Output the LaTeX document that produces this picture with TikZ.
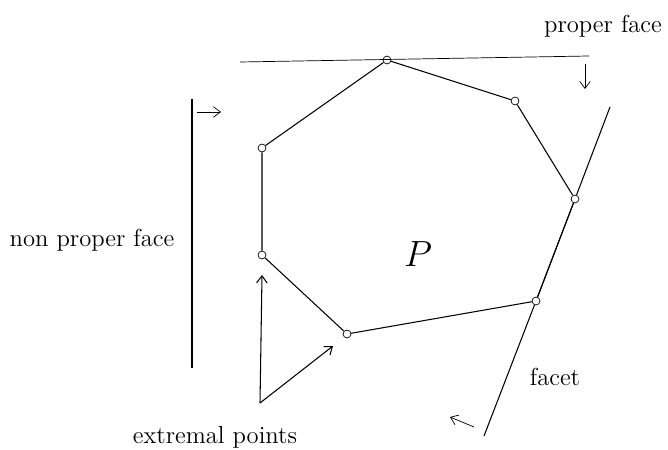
\documentclass[tikz,border=0pt]{standalone}
\usepackage{tikz}
\usetikzlibrary{calc, positioning, arrows.meta}

\begin{document}
\begin{tikzpicture}[>={Straight Barb[length=4pt, width=6pt]}, x=0.02cm, y=-0.02cm,
    vertex/.style={circle, draw, fill=white, inner sep=0pt, minimum size=4.5pt},
    lbl/.style={font=\fontsize{14}{16}\selectfont}]
    \useasboundingbox (0,0) rectangle (668,449);
    % Đỉnh của đa giác P
    \node[vertex] (v1) at (387,60) {};
    \node[vertex] (v2) at (515,101) {};
    \node[vertex] (v3) at (575,199) {};
    \node[vertex] (v4) at (536,301) {};
    \node[vertex] (v5) at (347,334) {};
    \node[vertex] (v6) at (262,255) {};
    \node[vertex] (v7) at (262,148) {};
    \draw[semithick] (v1) -- (v2) -- (v3) -- (v4) -- (v5) -- (v6) -- (v7) -- (v1);
    \node at (418,254) {\fontsize{20}{22}\selectfont $P$};

    % Mặt thực sự
    \coordinate (pf1) at (240,62);
    \coordinate (pf2) at (589,56);
    \draw (pf1) -- (pf2);
    \node[lbl] (pflbl) at (603,26) {proper face};
    \coordinate (pfa1) at (585,64);
    \coordinate (pfa2) at (585,89);
    \draw[->] (pfa1) -- (pfa2);

    % Mặt không thực sự
    \coordinate (np1) at (192,99);
    \coordinate (np2) at (192,368);
    \draw[semithick] (np1) -- (np2);
    \node[lbl] (nplbl) at (92,240) {non proper face};
    \coordinate (npa1) at (197,112);
    \coordinate (npa2) at (221,112);
    \draw[->] (npa1) -- (npa2);

    % Mặt facet
    \coordinate (fc1) at (610,107);
    \coordinate (fc2) at (484,436);
    \draw[semithick] (fc1) -- (v3) -- (v4) -- (fc2);
    \node[lbl] (fclbl) at (555,377) {facet};
    \coordinate (fca1) at (474,427);
    \coordinate (fca2) at (450,417);
    \draw[->] (fca1) -- (fca2);

    % Điểm cực biên
    \coordinate (ex) at (260,403);
    \coordinate (exa1) at (262,275);
    \coordinate (exa2) at (333,346);
    \draw[->, semithick] (ex) -- (exa1);
    \draw[->, semithick] (ex) -- (exa2);
    \node[lbl] (exlbl) at (215,437) {extremal points};
\end{tikzpicture}
\end{document}
